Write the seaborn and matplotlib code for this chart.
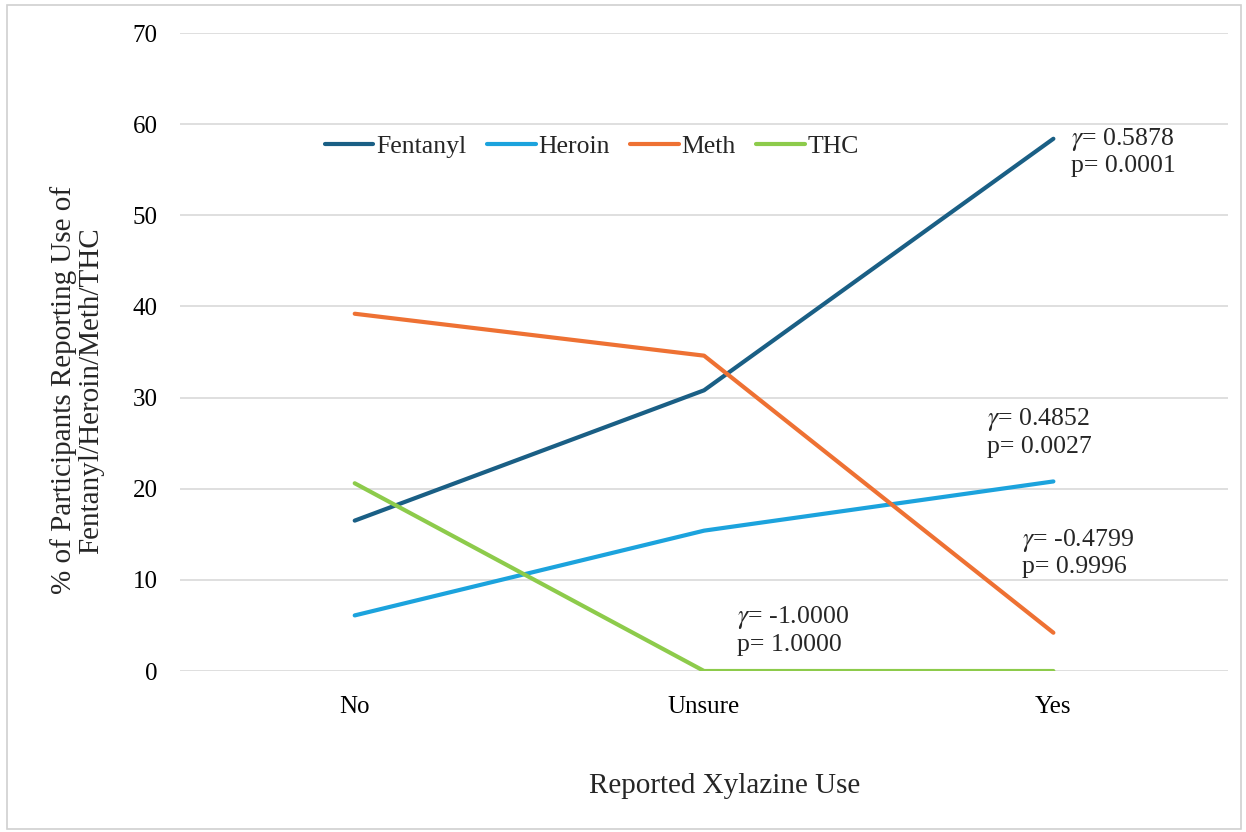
import numpy as np
import pandas as pd
import matplotlib
matplotlib.use("Agg")
import matplotlib.pyplot as plt
from matplotlib.patches import Rectangle
import seaborn as sns

# data
categories = ["No", "Unsure", "Yes"]
fentanyl = [16.5, 30.8, 58.4]
heroin = [6.1, 15.4, 20.8]
meth = [39.2, 34.6, 4.2]
thc = [20.6, 0.0, 0.0]
drugs = ["Fentanyl", "Heroin", "Meth", "THC"]
colors = ["#1a5f85", "#1ca3dd", "#ee7133", "#8dcb4b"]

# gamma / p annotations: (label, gamma, p, x, y)
stats = [
    ("Fentanyl", "0.5878", "0.0001", 2.05, 57.0),
    ("Heroin", "0.4852", "0.0027", 1.81, 26.2),
    ("Meth", "-0.4799", "0.9996", 1.91, 13.0),
    ("THC", "-1.0000", "1.0000", 1.095, 4.5),
]

df = pd.DataFrame({
    "Xylazine": categories * 4,
    "Drug": np.repeat(drugs, 3),
    "Pct": fentanyl + heroin + meth + thc,
})
df["pos"] = df["Xylazine"].map({c: i for i, c in enumerate(categories)})

sns.set_style("white")
plt.rcParams["font.family"] = ["Liberation Serif", "DejaVu Serif"]
plt.rcParams["mathtext.fontset"] = "stix"

fig = plt.figure(figsize=(12.46, 8.32), dpi=100)
ax = fig.add_axes([0.1445, 0.1935, 0.8411, 0.7668])

sns.lineplot(data=df, x="pos", y="Pct", hue="Drug", hue_order=drugs,
             palette=colors, linewidth=3, ax=ax, solid_capstyle="round")

ax.set_xlim(-0.5, 2.5)
ax.set_ylim(0, 70)
ax.set_xticks(range(len(categories)))
ax.set_xticklabels(categories)
ax.set_yticks(range(0, 71, 10))
ax.tick_params(axis="both", length=0, labelsize=18, colors="black")
ax.tick_params(axis="y", pad=16)
ax.tick_params(axis="x", pad=18)
ax.yaxis.grid(True, color="#d9d9d9", linewidth=1.2)
ax.set_axisbelow(True)
for s in ax.spines.values():
    s.set_visible(False)

ax.set_xlabel("Reported Xylazine Use", fontsize=21)
ax.xaxis.set_label_coords(0.52, -0.16)
ax.set_ylabel("% of Participants Reporting Use of\nFentanyl/Heroin/Meth/THC",
              fontsize=21, linespacing=1.1)
ax.yaxis.set_label_coords(-0.072, 0.44)

for name, g, p, x, y in stats:
    ax.text(x, y, r"$\gamma$= " + g + "\np= " + p, fontsize=18.5,
            ha="left", va="center", linespacing=1.15)

ax.legend(loc="center", bbox_to_anchor=(0.393, 0.822), ncol=4, frameon=False,
          fontsize=18.5, handlelength=1.9, handletextpad=0.1, columnspacing=0.8,
          title=None)

fig.patches.append(Rectangle((0.006, 0.004), 0.99, 0.99, transform=fig.transFigure,
                             fill=False, edgecolor="#d0d0d0", linewidth=1.2))

fig.savefig("out.png", dpi=100)
